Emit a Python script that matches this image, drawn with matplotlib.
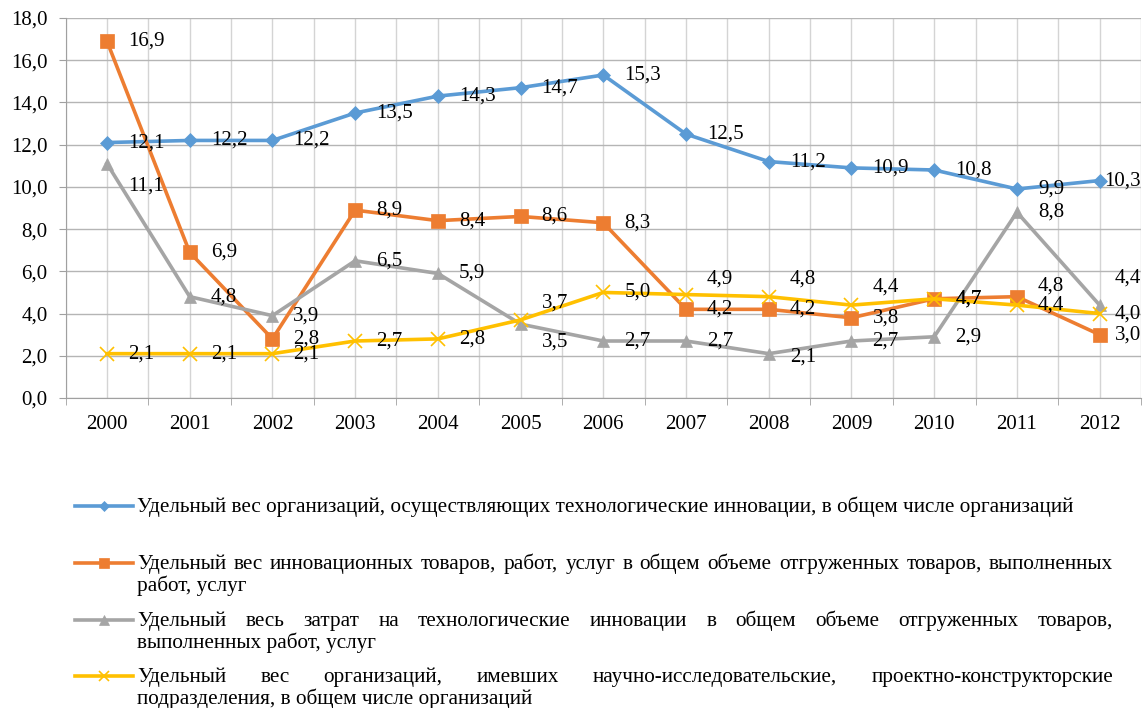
import numpy as np
import matplotlib
matplotlib.use("Agg")
import matplotlib.pyplot as plt
from matplotlib.lines import Line2D
from matplotlib.ticker import FuncFormatter, MultipleLocator

plt.rcParams['font.family'] = ['Liberation Serif', 'DejaVu Serif']

# data
years = ['2000', '2001', '2002', '2003', '2004', '2005', '2006',
         '2007', '2008', '2009', '2010', '2011', '2012']
tech_innov_orgs = [12.1, 12.2, 12.2, 13.5, 14.3, 14.7, 15.3, 12.5, 11.2, 10.9, 10.8, 9.9, 10.3]
innov_goods = [16.9, 6.9, 2.8, 8.9, 8.4, 8.6, 8.3, 4.2, 4.2, 3.8, 4.7, 4.8, 3.0]
innov_costs = [11.1, 4.8, 3.9, 6.5, 5.9, 3.5, 2.7, 2.7, 2.1, 2.7, 2.9, 8.8, 4.4]
rnd_orgs = [2.1, 2.1, 2.1, 2.7, 2.8, 3.7, 5.0, 4.9, 4.8, 4.4, 4.7, 4.4, 4.0]

legend_texts = [
    ["Удельный вес организаций, осуществляющих технологические инновации, в общем числе организаций"],
    ["Удельный вес инновационных товаров, работ, услуг в общем объеме отгруженных товаров, выполненных",
     "работ, услуг"],
    ["Удельный весь затрат на технологические инновации в общем объеме отгруженных товаров,",
     "выполненных работ, услуг"],
    ["Удельный вес организаций, имевших научно-исследовательские, проектно-конструкторские",
     "подразделения, в общем числе организаций"],
]

W, H = 1144, 708
fig = plt.figure(figsize=(W / 100, H / 100), dpi=100)

def fx(x):
    return x / W

def fy(y):
    return 1 - y / H

ax = fig.add_axes([fx(65.6), fy(398), fx(1141) - fx(65.6), fy(18) - fy(398)])

series = [tech_innov_orgs, innov_goods, innov_costs, rnd_orgs]
colors = ['#5B9BD5', '#ED7D31', '#A5A5A5', '#FFC000']
markers = ['D', 's', '^', 'x']
msizes = [7, 10, 9, 10]
FS = 15
LEG_FS = 15.3
# vertical label shifts in pixels (up is positive)
label_dy = [
    [0] * 13,
    [0, 0, 0, 0, 0, 0, 0, 0, 0, 0, 0, 11, 0],
    [-22, 0, 0, 0, 0, -18, 0, 0, -3, 0, 0, 0, 27],
    [0, 0, 0, 0, 0, 17, 0, 16, 18, 18, 0, 0, 0],
]
# horizontal shift of the last column labels (they sit closer to the right edge)
last_dx = [5, 15, 15, 15]

x = np.arange(len(years))
for k, (vals, c, m, ms, dys) in enumerate(zip(series, colors, markers, msizes, label_dy)):
    ax.plot(x, vals, color=c, lw=2.6, marker=m, markersize=ms,
            markeredgewidth=1.2 if m == 'x' else 0.5, markeredgecolor=c, zorder=3)
    for xi, v, dy in zip(x, vals, dys):
        dx = last_dx[k] if xi == len(years) - 1 else 21
        ax.annotate(f"{v:.1f}".replace('.', ','), (xi, v), xytext=(dx, dy),
                    textcoords='offset pixels', ha='left', va='center',
                    fontsize=FS, color='black', zorder=4, annotation_clip=False)

ax.set_xlim(-0.5, 12.5)
ax.set_ylim(0, 18)
ax.yaxis.set_major_locator(MultipleLocator(2))
ax.yaxis.set_major_formatter(FuncFormatter(lambda v, p: f"{v:.1f}".replace('.', ',')))
ax.set_xticks(x)
ax.set_xticklabels(years)
ax.set_xticks(np.arange(-0.5, 13, 1), minor=True)
ax.tick_params(axis='x', which='major', length=0, pad=12, labelsize=FS)
ax.tick_params(axis='x', which='minor', length=5, color='#a0a0a0', direction='out')
ax.tick_params(axis='y', which='major', length=5, color='#a0a0a0', pad=8, labelsize=FS)
ax.grid(axis='y', color='#b5b5b5', lw=1.0, zorder=0)
ax.grid(axis='x', which='both', color='#d4d4d4', lw=1.0, zorder=0)
ax.set_axisbelow(True)
for s in ['top', 'right']:
    ax.spines[s].set_visible(False)
ax.spines['left'].set_color('#a0a0a0')
ax.spines['bottom'].set_color('#a0a0a0')

# legend, drawn by hand with justified lines
renderer = fig.canvas.get_renderer()
text_x0, text_x1 = 137, 1113
line_y = [[506], [563, 585], [620, 642], [676, 698]]
base_shift = 6

def put_line(s, y, justify):
    yb = fy(y + base_shift)
    if not justify:
        fig.text(fx(text_x0), yb, s, fontsize=LEG_FS, ha='left', va='baseline')
        return
    words = s.split(' ')
    arts = [fig.text(0, yb, w, fontsize=LEG_FS, ha='left', va='baseline') for w in words]
    widths = [a.get_window_extent(renderer).width for a in arts]
    gap = (text_x1 - text_x0 - sum(widths)) / (len(words) - 1)
    pos = text_x0
    for a, w in zip(arts, widths):
        a.set_x(fx(pos))
        pos += w + gap

for lines, ys, c, m, ms in zip(legend_texts, line_y, colors, markers, msizes):
    fig.add_artist(Line2D([fx(75), fx(133)], [fy(ys[0]), fy(ys[0])], color=c, lw=2.6,
                          transform=fig.transFigure))
    fig.add_artist(Line2D([fx(104)], [fy(ys[0])], color=c, marker=m, markersize=ms * 0.75,
                          markeredgewidth=1.2 if m == 'x' else 0.5, markeredgecolor=c,
                          transform=fig.transFigure))
    for i, (s, y) in enumerate(zip(lines, ys)):
        put_line(s, y, justify=(i < len(lines) - 1))

fig.savefig('out.png', dpi=100)
